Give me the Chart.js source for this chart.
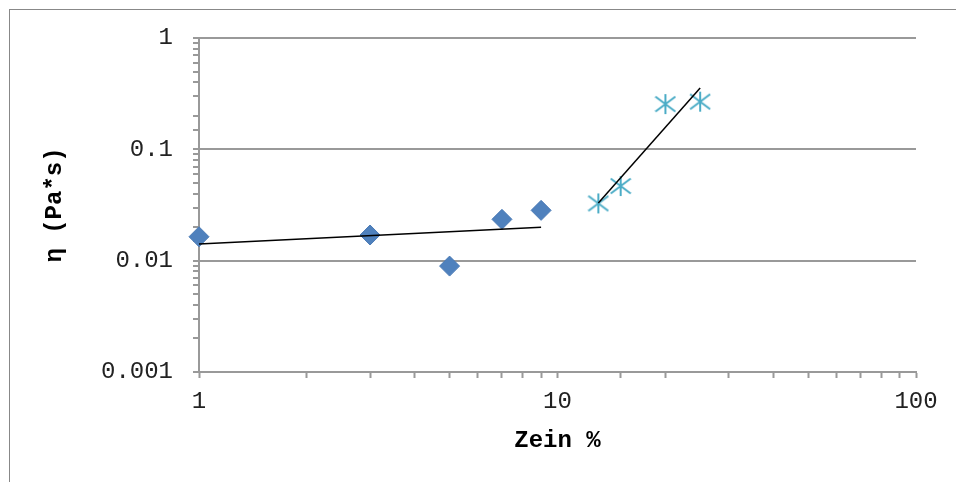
<!DOCTYPE html>
<html>
<head>
<meta charset="utf-8">
<script src="https://cdn.jsdelivr.net/npm/chart.js@4.4.1/dist/chart.umd.min.js"></script>
<style>
  html, body { margin: 0; padding: 0; background: #fff; }
  #wrap { position: relative; width: 956px; height: 482px; overflow: hidden; }
  #frame { position: absolute; left: 9px; top: 9px; width: 960px; height: 480px;
           border-left: 1px solid #888; border-top: 1px solid #888; pointer-events: none; }
</style>
</head>
<body>
<div id="wrap">
  <canvas id="etaChart" width="956" height="482"></canvas>
  <div id="frame"></div>
</div>
<script>
// low zein content (diamonds)
const zeinLow = [1, 3, 5, 7, 9];
const etaLow = [0.0164, 0.0170, 0.00894, 0.0235, 0.0283];

// high zein content (stars)
const zeinHigh = [13, 15, 20, 25];
const etaHigh = [0.0327, 0.0468, 0.255, 0.268];

// trend lines (end points)
const trendLowX = [1, 9];
const trendLowY = [0.0141, 0.0200];
const trendHighX = [13, 25];
const trendHighY = [0.033, 0.355];

const xTickLabels = ['1', '10', '100'];
const yTickLabels = ['0.001', '0.01', '0.1', '1'];

const toPoints = (xs, ys) => xs.map((x, i) => ({ x: x, y: ys[i] }));

function isDecade(v) {
  const l = Math.log10(v);
  return Math.abs(l - Math.round(l)) < 1e-9;
}

function decadeLabel(v, labels) {
  if (!isDecade(v)) return '';
  const found = labels.find(s => Math.abs(parseFloat(s) - v) < v * 1e-6);
  return found || '';
}

// Excel-like asterisk marker
function makeStar() {
  const c = document.createElement('canvas');
  c.width = 22;
  c.height = 22;
  const g = c.getContext('2d');
  g.strokeStyle = '#4bacc6';
  g.lineWidth = 2;
  g.beginPath();
  g.moveTo(11, 1); g.lineTo(11, 21);
  g.moveTo(1, 3.5); g.lineTo(21, 18.5);
  g.moveTo(1, 18.5); g.lineTo(21, 3.5);
  g.stroke();
  return c;
}

const monoFont = 'Liberation Mono, DejaVu Sans Mono, monospace';
const axisGray = '#999';

document.addEventListener('DOMContentLoaded', () => {
  const ctx = document.getElementById('etaChart').getContext('2d');
  new Chart(ctx, {
    type: 'scatter',
    data: {
      datasets: [
        {
          label: 'trend low',
          data: toPoints(trendLowX, trendLowY),
          showLine: true,
          borderColor: '#000',
          borderWidth: 1.5,
          pointRadius: 0,
          clip: false
        },
        {
          label: 'trend high',
          data: toPoints(trendHighX, trendHighY),
          showLine: true,
          borderColor: '#000',
          borderWidth: 1.5,
          pointRadius: 0,
          clip: false
        },
        {
          label: 'low',
          data: toPoints(zeinLow, etaLow),
          pointStyle: 'rectRot',
          pointRadius: 10,
          pointBackgroundColor: '#4f81bd',
          pointBorderColor: '#4a7ab5',
          pointBorderWidth: 1,
          clip: false
        },
        {
          label: 'high',
          data: toPoints(zeinHigh, etaHigh),
          pointStyle: makeStar(),
          pointRadius: 10,
          clip: false
        }
      ]
    },
    options: {
      responsive: false,
      animation: false,
      devicePixelRatio: 1,
      layout: { padding: { top: 38, right: 40, left: 0, bottom: 0 } },
      plugins: {
        legend: { display: false },
        tooltip: { enabled: false }
      },
      scales: {
        x: {
          type: 'logarithmic',
          min: 1,
          max: 100,
          border: { color: axisGray, width: 2 },
          grid: {
            drawOnChartArea: false,
            drawTicks: true,
            tickLength: 6,
            tickColor: axisGray,
            tickWidth: 2
          },
          ticks: {
            autoSkip: false,
            maxRotation: 0,
            padding: 9,
            color: '#222',
            font: { family: monoFont, size: 24 },
            callback: v => decadeLabel(v, xTickLabels)
          },
          title: {
            display: true,
            text: 'Zein %',
            color: '#000',
            font: { family: monoFont, size: 24, weight: 'bold' },
            padding: { top: 0, bottom: 27 }
          },
          afterFit: s => { s.height = 110; }
        },
        y: {
          type: 'logarithmic',
          min: 0.001,
          max: 1,
          border: { color: axisGray, width: 2 },
          grid: {
            color: c => (c.tick && isDecade(c.tick.value)) ? axisGray : 'rgba(0,0,0,0)',
            lineWidth: 2,
            drawTicks: true,
            tickLength: 6,
            tickColor: axisGray,
            tickWidth: 2
          },
          ticks: {
            autoSkip: false,
            padding: 20,
            color: '#222',
            font: { family: monoFont, size: 24 },
            callback: v => decadeLabel(v, yTickLabels)
          },
          title: {
            display: true,
            text: 'η (Pa*s)',
            color: '#000',
            font: { family: monoFont, size: 24, weight: 'bold' },
            padding: { top: 41, bottom: 0 }
          },
          afterFit: s => { s.width = 199; }
        }
      }
    }
  });
});
</script>
</body>
</html>
